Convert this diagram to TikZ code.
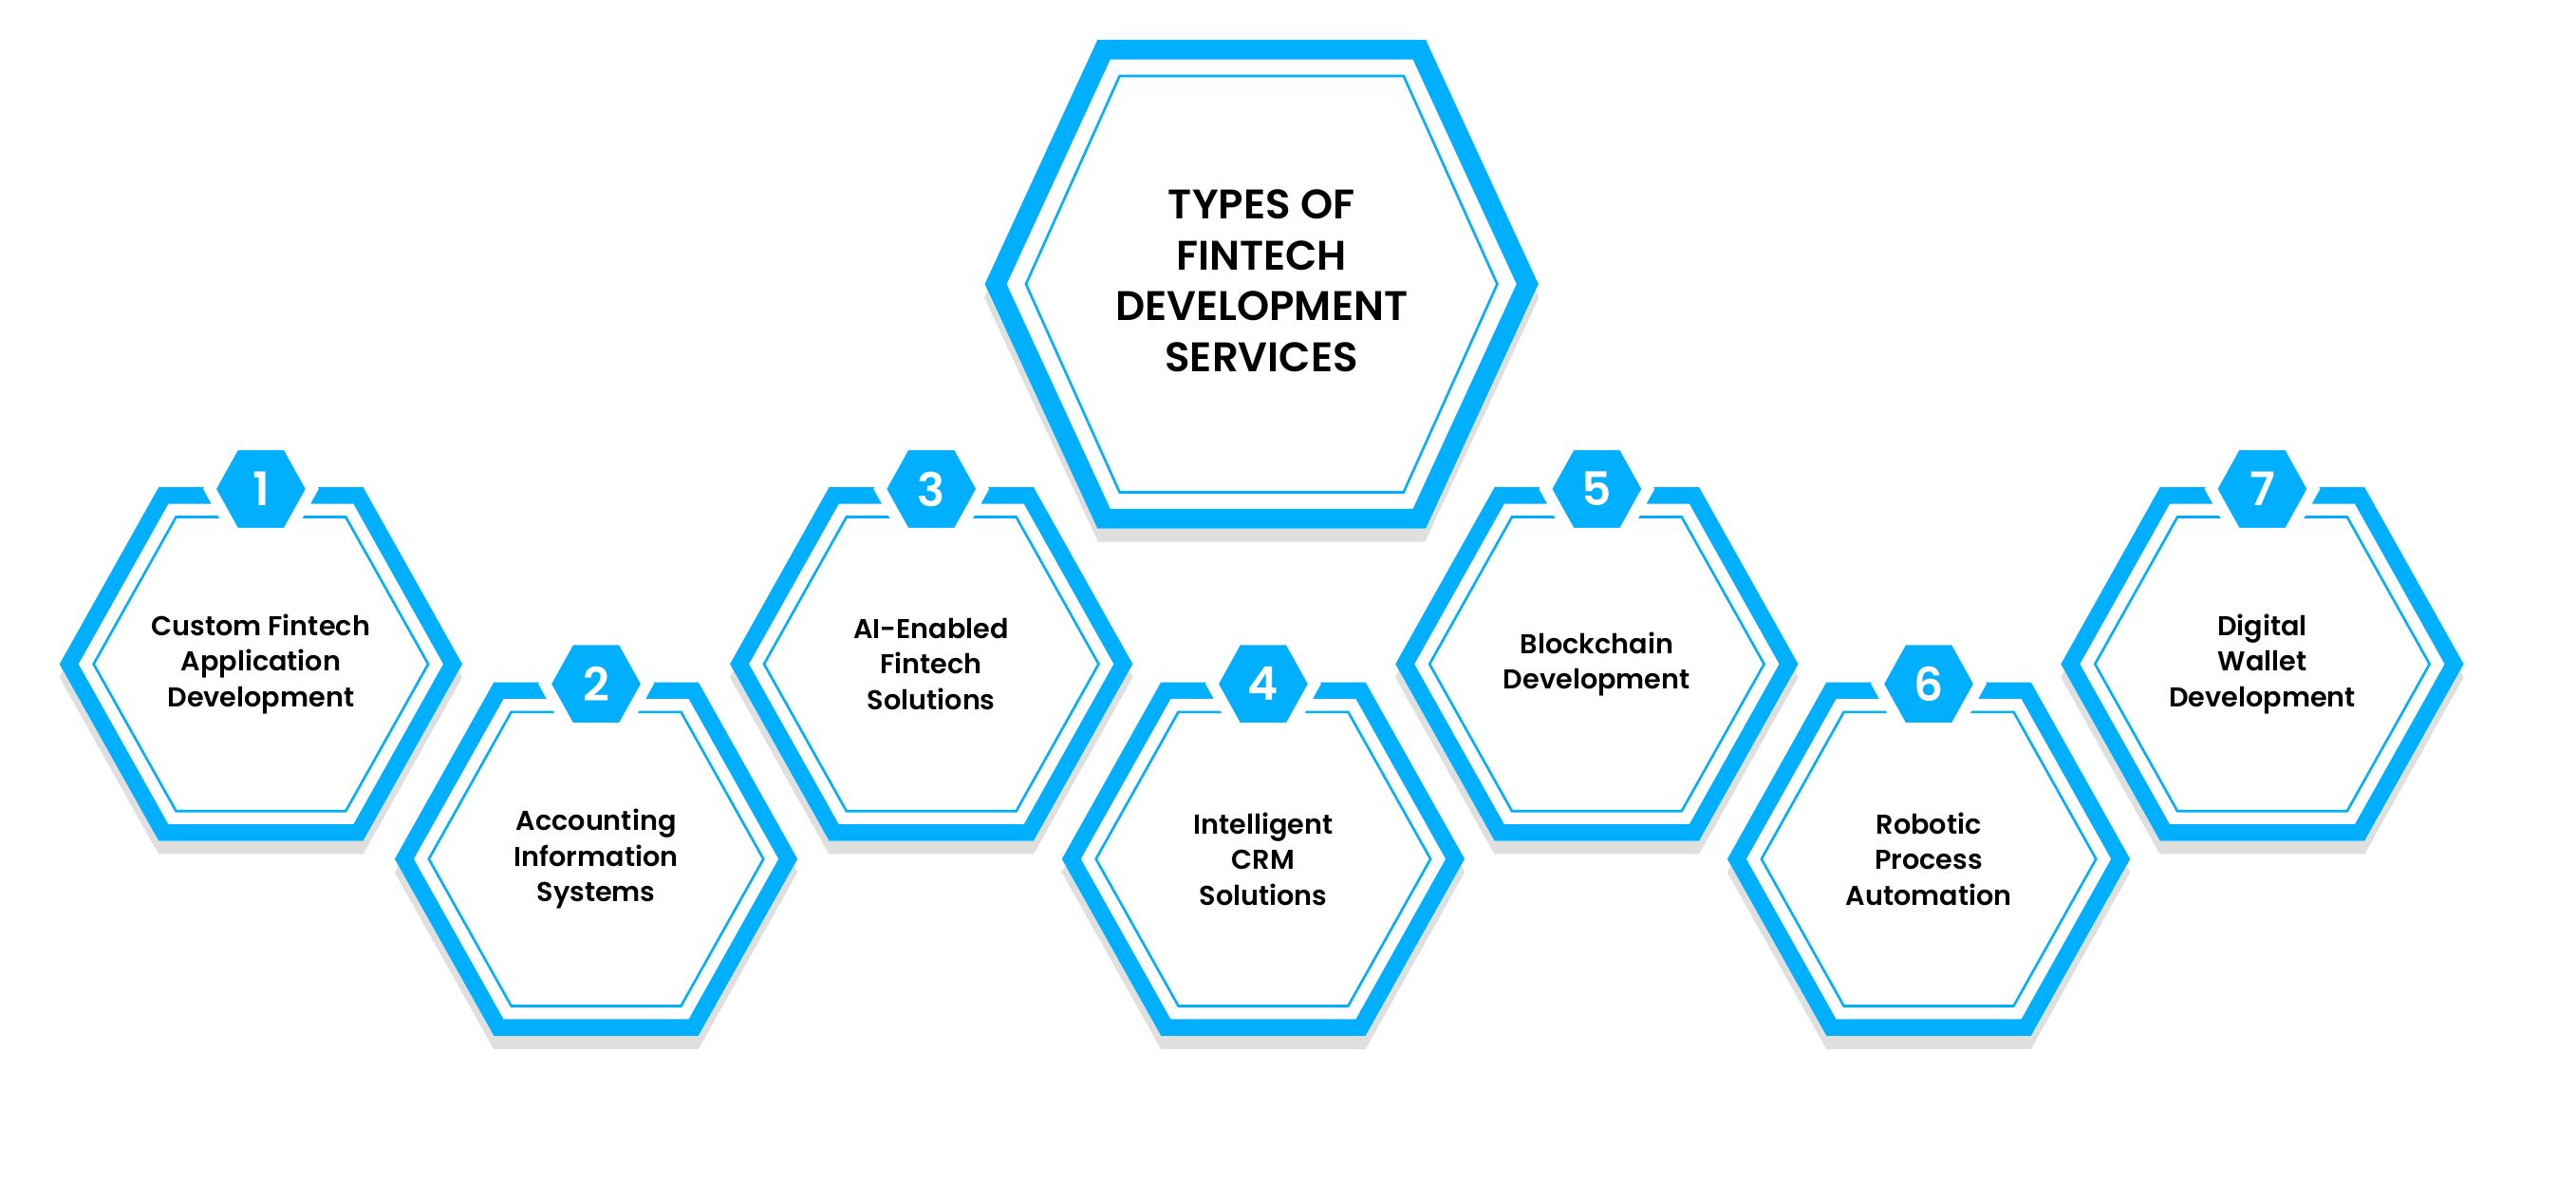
\documentclass[tikz,border=0pt]{standalone}
\usepackage{fontspec}
\setmainfont{Poppins}[BoldFont={Poppins SemiBold}]
\usetikzlibrary{shadows,positioning}
\definecolor{fbblue}{RGB}{0,176,255}

% hexagon path: centre x, centre y, half width, half height, half top edge
\newcommand\hexpath[5]{({#1-#3},#2) -- ({#1-#5},{#2+#4}) -- ({#1+#5},{#2+#4}) -- ({#1+#3},#2) -- ({#1+#5},{#2-#4}) -- ({#1-#5},{#2-#4}) -- cycle}

\begin{document}
\begin{tikzpicture}
		[
			x=1pt, y=1pt,
			band/.style={draw=fbblue, line width=10pt, line join=miter},
			bigband/.style={draw=fbblue, line width=12pt, line join=miter},
			thinline/.style={draw=fbblue, line width=1.5pt},
			shade/.style={fill=white, drop shadow={shadow xshift=0pt, shadow yshift=-8pt, opacity=.18, fill=black!70}},
			badge/.style={fill=fbblue, draw=white, line width=7pt},
			num/.style={text=white, font=\fontsize{28}{30}\selectfont\bfseries},
			label/.style={align=center, font=\fontsize{16.5}{21.5}\selectfont\bfseries},
			title/.style={align=center, font=\fontsize{25}{31}\selectfont\bfseries}
		]
		\useasboundingbox (0,0) rectangle (1560,-717);

		% main hexagon
		\path[shade] \hexpath{764}{-172}{168}{148}{99};
		\path[bigband] \hexpath{764}{-172}{161}{142}{95.5};
		\path[thinline] \hexpath{764}{-172}{142.7}{126}{86};
		\node[title] (types) at (764,-170) {TYPES OF\\FINTECH\\DEVELOPMENT\\SERVICES};

		% service hexagons
		\foreach \x/\y/\n/\txt in {
			158/-402/1/{Custom Fintech\\Application\\Development},
			361/-520/2/{Accounting\\Information\\Systems},
			564/-402/3/{AI-Enabled\\Fintech\\Solutions},
			765/-520/4/{Intelligent\\CRM\\Solutions},
			967/-402/5/{Blockchain\\Development},
			1168/-520/6/{Robotic\\Process\\Automation},
			1370/-402/7/{Digital\\Wallet\\Development}}
		{
			\path[shade] \hexpath{\x}{\y}{122}{107}{62};
			\path[band] \hexpath{\x}{\y}{116.2}{102}{59};
			\path[thinline] \hexpath{\x}{\y}{101.3}{89}{51.4};
			\path[badge] \hexpath{\x}{\y+106}{31}{27}{16};
			\node[num] (n\n) at (\x,\y+106) {\n};
			\node[label] (s\n) at (\x,\y) {\txt};
		}
	\end{tikzpicture}
\end{document}
